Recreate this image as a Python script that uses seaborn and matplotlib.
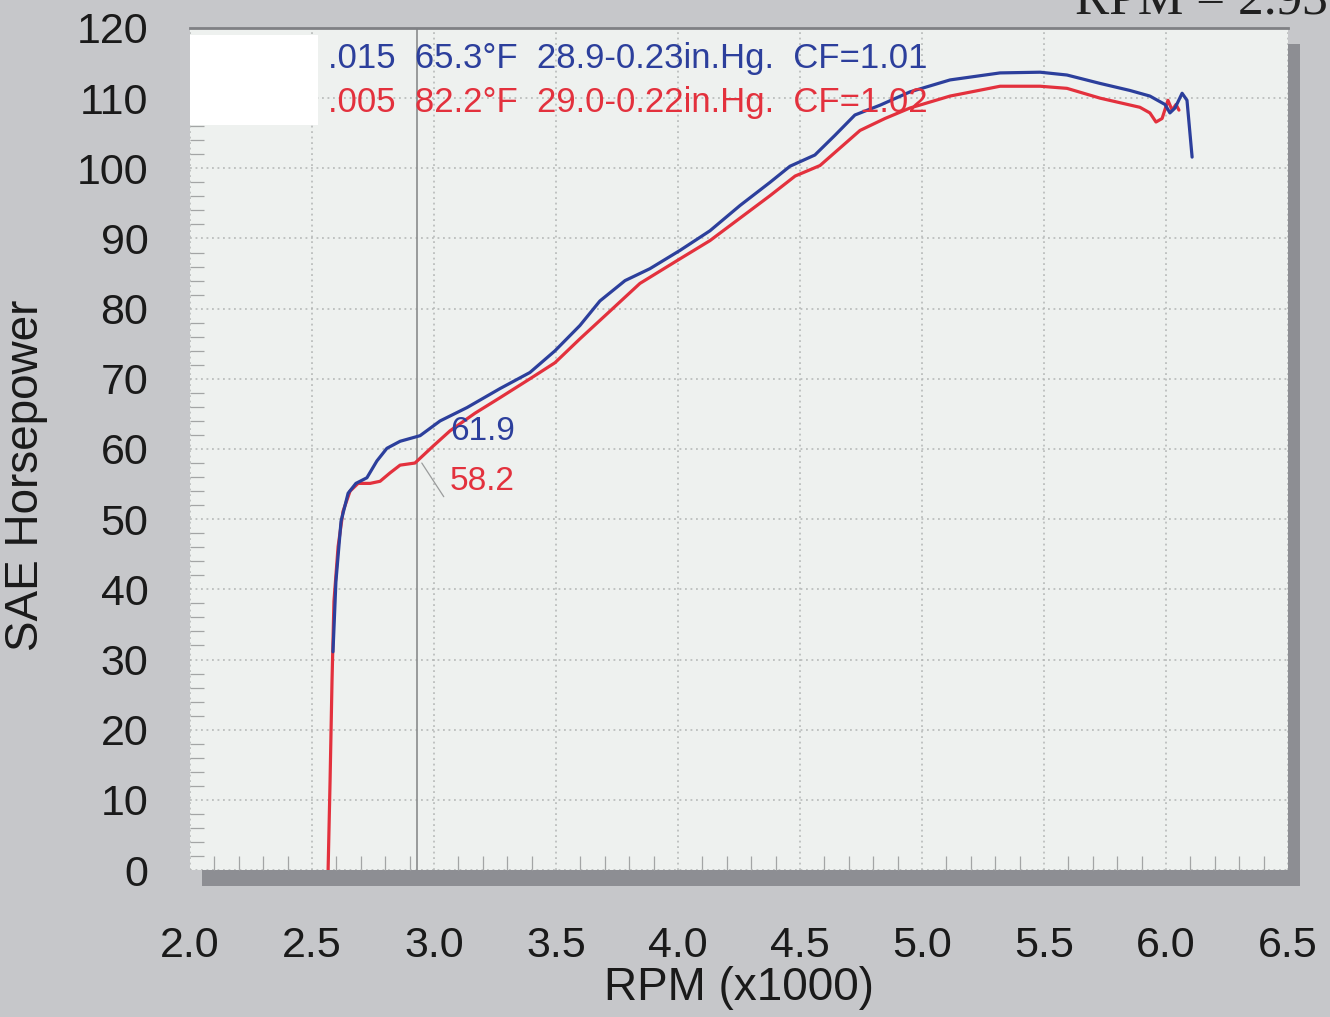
import numpy as np
import pandas as pd
import matplotlib
matplotlib.use("Agg")
import matplotlib.pyplot as plt
import matplotlib.patches as mpatches
from matplotlib.ticker import MultipleLocator
import seaborn as sns

# --- Data ---
blue_rpm = [2.586, 2.598, 2.619, 2.648, 2.680, 2.725, 2.766, 2.807, 2.861, 2.943,
            3.025, 3.135, 3.270, 3.393, 3.496, 3.598, 3.680, 3.783, 3.885, 4.008,
            4.131, 4.254, 4.377, 4.459, 4.561, 4.643, 4.725, 4.828, 4.951, 5.115,
            5.320, 5.484, 5.594, 5.730, 5.852, 5.934, 5.996, 6.016, 6.037, 6.066,
            6.086, 6.107]
blue_hp = [31.1, 41.1, 49.7, 53.7, 55.1, 55.9, 58.3, 60.1, 61.1, 61.9,
           64.0, 65.9, 68.6, 70.9, 74.0, 77.6, 81.1, 84.0, 85.7, 88.3,
           91.1, 94.7, 98.0, 100.3, 101.9, 104.7, 107.6, 109.0, 110.9, 112.6,
           113.6, 113.7, 113.3, 112.1, 111.1, 110.3, 109.1, 107.9, 108.6, 110.7,
           109.7, 101.6]

red_rpm = [2.566, 2.574, 2.582, 2.590, 2.607, 2.627, 2.656, 2.689, 2.738, 2.779,
           2.820, 2.861, 2.922, 2.996, 3.066, 3.168, 3.270, 3.393, 3.496, 3.598,
           3.701, 3.844, 4.008, 4.131, 4.254, 4.377, 4.480, 4.582, 4.664, 4.746,
           4.848, 4.951, 5.115, 5.320, 5.484, 5.594, 5.730, 5.893, 5.934, 5.959,
           5.984, 6.008, 6.025, 6.041, 6.053]
red_hp = [0.0, 12.6, 26.9, 38.3, 46.1, 51.1, 54.0, 55.1, 55.1, 55.4,
          56.6, 57.7, 58.0, 60.4, 62.6, 65.1, 67.3, 70.0, 72.3, 75.7,
          79.0, 83.6, 87.1, 89.7, 92.9, 96.1, 98.9, 100.4, 102.9, 105.4,
          107.1, 108.6, 110.3, 111.7, 111.7, 111.4, 110.0, 108.7, 107.9, 106.6,
          107.1, 109.7, 108.3, 109.1, 108.3]

header_blue = ".015  65.3°F  28.9-0.23in.Hg.  CF=1.01"
header_red = ".005  82.2°F  29.0-0.22in.Hg.  CF=1.02"
cursor_rpm = 2.93
cursor_blue = 61.9
cursor_red = 58.2

x_ticks = [2.0, 2.5, 3.0, 3.5, 4.0, 4.5, 5.0, 5.5, 6.0, 6.5]
y_ticks = list(range(0, 121, 10))

BLUE = "#2c3f9c"
RED = "#e3313d"

# --- Style ---
sns.set_style("white")
plt.rcParams["font.family"] = ["Liberation Sans", "DejaVu Sans"]

fig = plt.figure(figsize=(13.3, 10.17), dpi=100)
fig.patch.set_facecolor("#c6c7ca")

ax_l, ax_b, ax_w, ax_h = 190 / 1330, 1 - 870 / 1017, 1098 / 1330, 842 / 1017

# drop shadow behind the plot panel
shadow = mpatches.Rectangle((ax_l + 12 / 1330, ax_b - 16 / 1017), ax_w, ax_h,
                            transform=fig.transFigure, facecolor="#8d8e93",
                            edgecolor="none", zorder=-1)
fig.patches.append(shadow)

ax = fig.add_axes((ax_l, ax_b, ax_w, ax_h))
ax.set_facecolor("#eef1ef")

blue_df = pd.DataFrame({"rpm": blue_rpm, "hp": blue_hp})
red_df = pd.DataFrame({"rpm": red_rpm, "hp": red_hp})
sns.lineplot(data=red_df, x="rpm", y="hp", color=RED, lw=2.3, sort=False,
             estimator=None, ax=ax, zorder=3)
sns.lineplot(data=blue_df, x="rpm", y="hp", color=BLUE, lw=2.3, sort=False,
             estimator=None, ax=ax, zorder=4)

ax.set_xlim(2.0, 6.5)
ax.set_ylim(0, 120)
ax.set_xticks(x_ticks)
ax.set_yticks(y_ticks)
ax.set_xticklabels([f"{v:.1f}" for v in x_ticks])
ax.xaxis.set_minor_locator(MultipleLocator(0.1))
ax.yaxis.set_minor_locator(MultipleLocator(2))

ax.grid(True, which="major", color="#b3b6b5", linestyle=(0, (1.2, 2.4)), lw=1.1)
ax.tick_params(axis="x", which="major", length=0, pad=40, labelsize=31, colors="#1a1a1a")
ax.tick_params(axis="y", which="major", length=0, pad=30, labelsize=31, colors="#1a1a1a")
ax.tick_params(which="minor", direction="in", length=10, color="#a3a5a5", width=0.9,
               bottom=True, left=True)

for side in ["left", "bottom"]:
    ax.spines[side].set_visible(False)
ax.spines["top"].set_color("#7f8084")
ax.spines["top"].set_linewidth(2)
ax.spines["right"].set_visible(False)

ax.set_xlabel("RPM (x1000)", fontsize=33, labelpad=0, color="#1a1a1a")
ax.set_ylabel("SAE Horsepower", fontsize=33, color="#1a1a1a")
ax.yaxis.set_label_coords(-0.129, 0.469)

# cursor line and readout
ax.axvline(cursor_rpm, color="#8a8c8c", lw=1.2, zorder=2)
ax.text(3.065, cursor_blue + 0.6, f"{cursor_blue:.1f}", color=BLUE, fontsize=24,
        va="center", ha="left", zorder=5)
ax.text(3.065, cursor_red - 2.9, f"{cursor_red:.1f}", color=RED, fontsize=24,
        va="center", ha="left", zorder=5)
ax.plot([2.95, 3.04], [58.0, 53.2], color="#9a9c9c", lw=0.9, zorder=2)

# white blanked box and run headers
ax.add_patch(mpatches.Rectangle((2.0, 106.2), 0.525, 12.8, facecolor="white",
                                edgecolor="none", zorder=5))
ax.text(2.565, 115.7, header_blue, color=BLUE, fontsize=25, va="center", ha="left", zorder=6)
ax.text(2.565, 109.4, header_red, color=RED, fontsize=25, va="center", ha="left", zorder=6)

# cut-off cursor caption at the very top
fig.text(1075 / 1330, 1 - 13 / 1017, "RPM = 2.93", fontsize=37, color="#202020",
         family=["Liberation Serif", "DejaVu Serif"], ha="left", va="baseline")

fig.savefig("out.png", dpi=100, facecolor=fig.get_facecolor())
